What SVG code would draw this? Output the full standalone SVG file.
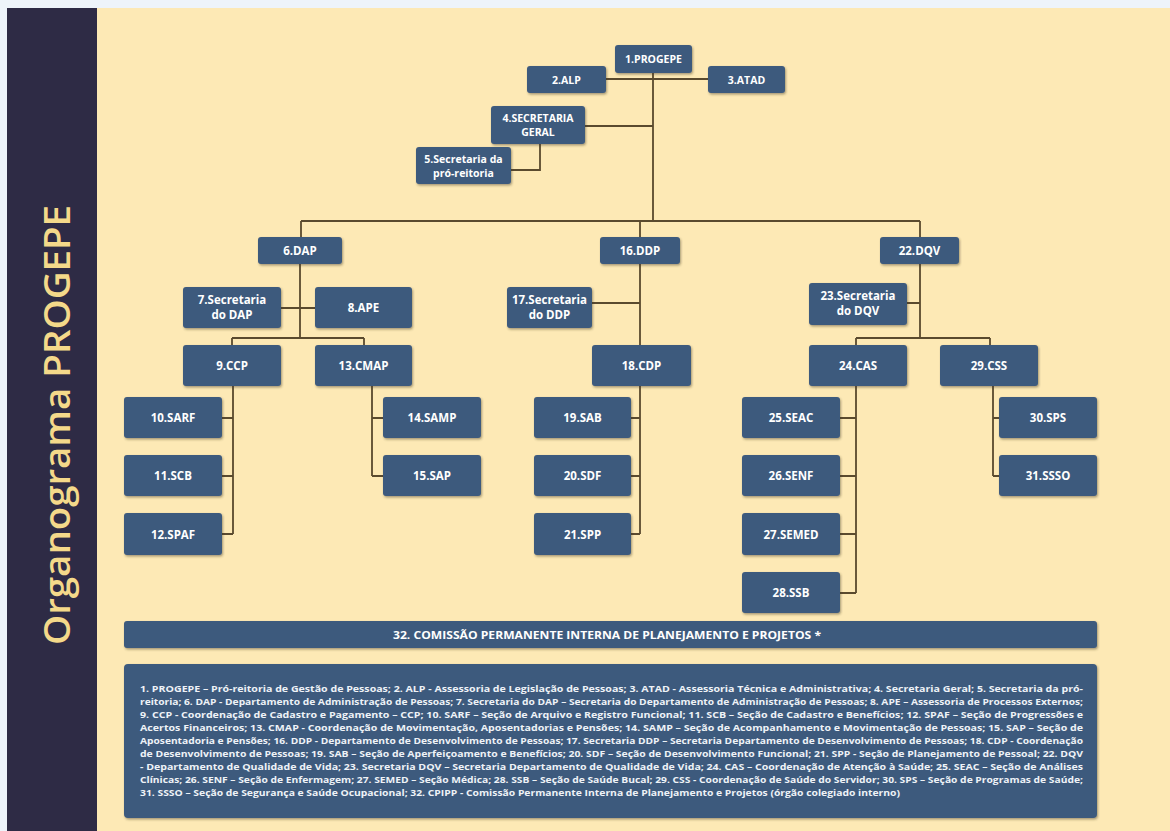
<svg xmlns="http://www.w3.org/2000/svg" width="1170" height="831" viewBox="0 0 1170 831">
<defs>
<filter id="sh" x="-10%" y="-10%" width="130%" height="140%">
<feDropShadow dx="1" dy="1.5" stdDeviation="0.8" flood-color="#3a3020" flood-opacity="0.45"/>
</filter>
</defs>
<style>
.n{fill:#3d5a7d;filter:url(#sh)}
.t{font-family:"Open Sans","Liberation Sans",sans-serif;font-weight:700;fill:#ffffff;text-anchor:middle}
.ts{font-size:10.5px}
.tm{font-size:11.5px}
.c{stroke:#5a4a2e;stroke-width:1.8;fill:none}
.lg{font-family:"Open Sans","Liberation Sans",sans-serif;font-weight:700;font-size:9px;fill:#eef2f7}
</style>
<rect x="0" y="0" width="1170" height="831" fill="#eef4fa"/>
<rect x="97" y="8" width="1073" height="823" fill="#fde9b5"/>
<rect x="7" y="8" width="90" height="823" fill="#2e2b45"/>
<text transform="translate(70 425) rotate(-90)" text-anchor="middle" font-family="Open Sans, Liberation Sans, sans-serif" font-size="36" font-weight="600" fill="#f4d98a" textLength="440" lengthAdjust="spacingAndGlyphs">Organograma PROGEPE</text>

<g id="connectors">
<path class="c" d="M606 79H708M653 72V221M585 126H653M540 144V170H511M301 221H920M301 221V237M640 221V237M920 221V237"/>
<path class="c" d="M300 264V338M281 308H315M232 338H364M232 338V345M364 338V345"/>
<path class="c" d="M233 386V534M222 418H233M222 476H233M222 534H233"/>
<path class="c" d="M372 386V476M372 418H383M372 476H383"/>
<path class="c" d="M640 264V345M592 303H640M640 386V534M631 418H640M631 476H640M631 534H640"/>
<path class="c" d="M920 264V338M907 303H920M856 338H990M856 338V345M990 338V345"/>
<path class="c" d="M856 386V593M840 418H856M840 476H856M840 534H856M840 593H856"/>
<path class="c" d="M993 386V476M993 418H999M993 476H999"/>
</g>

<g id="n1"><rect class="n" x="615" y="45" width="77" height="28" rx="3"/><text class="t ts" x="653.5" y="63">1.PROGEPE</text></g>
<g id="n2"><rect class="n" x="527" y="66" width="79" height="27" rx="3"/><text class="t ts" x="566.5" y="83.5">2.ALP</text></g>
<g id="n3"><rect class="n" x="708" y="66" width="77" height="27" rx="3"/><text class="t ts" x="746.5" y="83.5">3.ATAD</text></g>
<g id="n4"><rect class="n" x="491" y="106" width="94" height="38" rx="3"/><text class="t ts" x="538" y="122">4.SECRETARIA</text><text class="t ts" x="538" y="136">GERAL</text></g>
<g id="n5"><rect class="n" x="416" y="147" width="95" height="37" rx="3"/><text class="t ts" x="463.5" y="162.5">5.Secretaria da</text><text class="t ts" x="463.5" y="176.5">pró-reitoria</text></g>

<g id="n6"><rect class="n" x="258" y="237" width="84" height="27" rx="3"/><text class="t tm" x="300" y="254.5">6.DAP</text></g>
<g id="n16"><rect class="n" x="600" y="237" width="80" height="27" rx="3"/><text class="t tm" x="640" y="254.5">16.DDP</text></g>
<g id="n22"><rect class="n" x="880" y="237" width="79" height="27" rx="3"/><text class="t tm" x="919.5" y="254.5">22.DQV</text></g>

<g id="n7"><rect class="n" x="183" y="287" width="98" height="41" rx="3"/><text class="t tm" x="232" y="304">7.Secretaria</text><text class="t tm" x="232" y="319">do DAP</text></g>
<g id="n8"><rect class="n" x="315" y="287" width="97" height="41" rx="3"/><text class="t tm" x="363.5" y="312">8.APE</text></g>
<g id="n9"><rect class="n" x="183" y="345" width="98" height="41" rx="3"/><text class="t tm" x="232" y="370">9.CCP</text></g>
<g id="n13"><rect class="n" x="315" y="345" width="97" height="41" rx="3"/><text class="t tm" x="363.5" y="370">13.CMAP</text></g>
<g id="n10"><rect class="n" x="124" y="397" width="98" height="41" rx="3"/><text class="t tm" x="173" y="422">10.SARF</text></g>
<g id="n11"><rect class="n" x="124" y="455" width="98" height="41" rx="3"/><text class="t tm" x="173" y="480">11.SCB</text></g>
<g id="n12"><rect class="n" x="124" y="513" width="98" height="42" rx="3"/><text class="t tm" x="173" y="538.5">12.SPAF</text></g>
<g id="n14"><rect class="n" x="383" y="397" width="98" height="41" rx="3"/><text class="t tm" x="432" y="422">14.SAMP</text></g>
<g id="n15"><rect class="n" x="383" y="455" width="98" height="41" rx="3"/><text class="t tm" x="432" y="480">15.SAP</text></g>

<g id="n17"><rect class="n" x="507" y="287" width="85" height="41" rx="3"/><text class="t tm" x="549.5" y="304">17.Secretaria</text><text class="t tm" x="549.5" y="319">do DDP</text></g>
<g id="n18"><rect class="n" x="592" y="345" width="99" height="41" rx="3"/><text class="t tm" x="641.5" y="370">18.CDP</text></g>
<g id="n19"><rect class="n" x="534" y="397" width="97" height="41" rx="3"/><text class="t tm" x="582.5" y="422">19.SAB</text></g>
<g id="n20"><rect class="n" x="534" y="455" width="97" height="41" rx="3"/><text class="t tm" x="582.5" y="480">20.SDF</text></g>
<g id="n21"><rect class="n" x="534" y="513" width="97" height="42" rx="3"/><text class="t tm" x="582.5" y="538.5">21.SPP</text></g>

<g id="n23"><rect class="n" x="809" y="283" width="98" height="42" rx="3"/><text class="t tm" x="858" y="300">23.Secretaria</text><text class="t tm" x="858" y="315">do DQV</text></g>
<g id="n24"><rect class="n" x="809" y="345" width="98" height="41" rx="3"/><text class="t tm" x="858" y="370">24.CAS</text></g>
<g id="n29"><rect class="n" x="940" y="345" width="98" height="41" rx="3"/><text class="t tm" x="989" y="370">29.CSS</text></g>
<g id="n25"><rect class="n" x="742" y="397" width="98" height="41" rx="3"/><text class="t tm" x="791" y="422">25.SEAC</text></g>
<g id="n26"><rect class="n" x="742" y="455" width="98" height="41" rx="3"/><text class="t tm" x="791" y="480">26.SENF</text></g>
<g id="n27"><rect class="n" x="742" y="513" width="98" height="42" rx="3"/><text class="t tm" x="791" y="538.5">27.SEMED</text></g>
<g id="n28"><rect class="n" x="742" y="572" width="98" height="41" rx="3"/><text class="t tm" x="791" y="597">28.SSB</text></g>
<g id="n30"><rect class="n" x="999" y="397" width="98" height="41" rx="3"/><text class="t tm" x="1048" y="422">30.SPS</text></g>
<g id="n31"><rect class="n" x="999" y="455" width="98" height="41" rx="3"/><text class="t tm" x="1048" y="480">31.SSSO</text></g>

<g id="n32"><rect class="n" x="124" y="621" width="973" height="27" rx="3"/><text class="t ts" x="607" y="638.5" textLength="428" lengthAdjust="spacingAndGlyphs">32. COMISSÃO PERMANENTE INTERNA DE PLANEJAMENTO E PROJETOS *</text></g>

<g id="legend">
<rect class="n" x="124" y="664" width="973" height="154" rx="4"/>
<text class="lg" x="140" y="692" textLength="943" lengthAdjust="spacingAndGlyphs">1. PROGEPE – Pró-reitoria de Gestão de Pessoas; 2. ALP - Assessoria de Legislação de Pessoas; 3. ATAD - Assessoria Técnica e Administrativa; 4. Secretaria Geral; 5. Secretaria da pró-</text>
<text class="lg" x="140" y="705" textLength="943" lengthAdjust="spacingAndGlyphs">reitoria; 6. DAP - Departamento de Administração de Pessoas; 7. Secretaria do DAP – Secretaria do Departamento de Administração de Pessoas; 8. APE – Assessoria de Processos Externos;</text>
<text class="lg" x="140" y="718" textLength="943" lengthAdjust="spacingAndGlyphs">9. CCP - Coordenação de Cadastro e Pagamento – CCP; 10. SARF – Seção de Arquivo e Registro Funcional; 11. SCB – Seção de Cadastro e Benefícios; 12. SPAF – Seção de Progressões e</text>
<text class="lg" x="140" y="731" textLength="943" lengthAdjust="spacingAndGlyphs">Acertos Financeiros; 13. CMAP - Coordenação de Movimentação, Aposentadorias e Pensões; 14. SAMP – Seção de Acompanhamento e Movimentação de Pessoas; 15. SAP – Seção de</text>
<text class="lg" x="140" y="744" textLength="943" lengthAdjust="spacingAndGlyphs">Aposentadoria e Pensões; 16. DDP - Departamento de Desenvolvimento de Pessoas; 17. Secretaria DDP – Secretaria Departamento de Desenvolvimento de Pessoas; 18. CDP - Coordenação</text>
<text class="lg" x="140" y="757" textLength="943" lengthAdjust="spacingAndGlyphs">de Desenvolvimento de Pessoas; 19. SAB – Seção de Aperfeiçoamento e Benefícios; 20. SDF – Seção de Desenvolvimento Funcional; 21. SPP - Seção de Planejamento de Pessoal; 22. DQV</text>
<text class="lg" x="140" y="770" textLength="943" lengthAdjust="spacingAndGlyphs">- Departamento de Qualidade de Vida; 23. Secretaria DQV – Secretaria Departamento de Qualidade de Vida; 24. CAS – Coordenação de Atenção à Saúde; 25. SEAC – Seção de Análises</text>
<text class="lg" x="140" y="783" textLength="943" lengthAdjust="spacingAndGlyphs">Clínicas; 26. SENF – Seção de Enfermagem; 27. SEMED – Seção Médica; 28. SSB – Seção de Saúde Bucal; 29. CSS - Coordenação de Saúde do Servidor; 30. SPS – Seção de Programas de Saúde;</text>
<text class="lg" x="140" y="796" textLength="760" lengthAdjust="spacingAndGlyphs">31. SSSO – Seção de Segurança e Saúde Ocupacional; 32. CPIPP - Comissão Permanente Interna de Planejamento e Projetos (órgão colegiado interno)</text>
</g>
</svg>
